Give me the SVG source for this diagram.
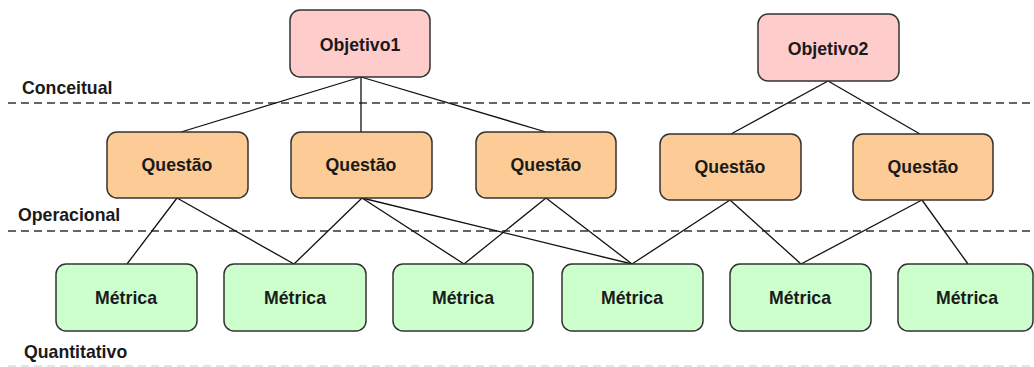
<svg xmlns="http://www.w3.org/2000/svg" width="1034" height="367" viewBox="0 0 1034 367">
<style>
.box{stroke:#333;stroke-width:1.5}
.obj{fill:#FFCCCC}
.q{fill:#FDCB95}
.m{fill:#CCFFCC}
.t{font-family:"Liberation Sans",Arial,sans-serif;font-weight:bold;font-size:17.7px;fill:#1a1a1a;text-anchor:middle}
.lbl{font-family:"Liberation Sans",Arial,sans-serif;font-weight:bold;font-size:17.7px;fill:#1a1a1a}
.dash{stroke:#333;stroke-width:1.5;stroke-dasharray:8 5;fill:none}
.dashl{stroke:#ddd;stroke-width:1.5;stroke-dasharray:8 5;fill:none}
.c line{stroke:#111;stroke-width:1.3}
</style>
<rect width="1034" height="367" fill="#fff"/>
<g id="layers">
<text class="lbl" x="22" y="94">Conceitual</text>
<line class="dash" x1="8" y1="103" x2="1034" y2="103"/>
<text class="lbl" x="18" y="221">Operacional</text>
<line class="dash" x1="8" y1="231" x2="1034" y2="231"/>
<text class="lbl" x="24" y="358">Quantitativo</text>
<line class="dashl" x1="8" y1="366" x2="1034" y2="366"/>
</g>
<g id="connectors" class="c">
<line x1="361" y1="77" x2="181" y2="132"/>
<line x1="361" y1="77" x2="361" y2="132"/>
<line x1="361" y1="77" x2="546" y2="132"/>
<line x1="828" y1="81" x2="731" y2="134"/>
<line x1="828" y1="81" x2="920" y2="134"/>
<line x1="177" y1="198" x2="127" y2="264"/>
<line x1="177" y1="198" x2="294" y2="264"/>
<line x1="362" y1="198" x2="294" y2="264"/>
<line x1="362" y1="198" x2="464" y2="264"/>
<line x1="362" y1="198" x2="632" y2="264"/>
<line x1="546" y1="198" x2="464" y2="264"/>
<line x1="546" y1="198" x2="632" y2="264"/>
<line x1="730" y1="200" x2="632" y2="264"/>
<line x1="730" y1="200" x2="801" y2="264"/>
<line x1="922" y1="200" x2="801" y2="264"/>
<line x1="922" y1="200" x2="968" y2="264"/>
</g>
<g id="objetivo1"><rect class="box obj" x="290" y="10" width="140" height="67" rx="10"/><text class="t" x="360" y="51">Objetivo1</text></g>
<g id="objetivo2"><rect class="box obj" x="758" y="14" width="141" height="67" rx="10"/><text class="t" x="828" y="55">Objetivo2</text></g>
<g id="questao1"><rect class="box q" x="107" y="132" width="141" height="66" rx="10"/><text class="t" x="177" y="171">Questão</text></g>
<g id="questao2"><rect class="box q" x="291" y="132" width="141" height="66" rx="10"/><text class="t" x="361" y="171">Questão</text></g>
<g id="questao3"><rect class="box q" x="476" y="132" width="140" height="66" rx="10"/><text class="t" x="546" y="171">Questão</text></g>
<g id="questao4"><rect class="box q" x="660" y="134" width="141" height="66" rx="10"/><text class="t" x="730" y="173">Questão</text></g>
<g id="questao5"><rect class="box q" x="853" y="134" width="140" height="66" rx="10"/><text class="t" x="923" y="173">Questão</text></g>
<g id="metrica1"><rect class="box m" x="56" y="264" width="141" height="67" rx="10"/><text class="t" x="126" y="304">Métrica</text></g>
<g id="metrica2"><rect class="box m" x="224" y="264" width="142" height="67" rx="10"/><text class="t" x="295" y="304">Métrica</text></g>
<g id="metrica3"><rect class="box m" x="393" y="264" width="140" height="67" rx="10"/><text class="t" x="463" y="304">Métrica</text></g>
<g id="metrica4"><rect class="box m" x="562" y="264" width="141" height="67" rx="10"/><text class="t" x="632" y="304">Métrica</text></g>
<g id="metrica5"><rect class="box m" x="730" y="264" width="141" height="67" rx="10"/><text class="t" x="800" y="304">Métrica</text></g>
<g id="metrica6"><rect class="box m" x="898" y="264" width="135" height="67" rx="10"/><text class="t" x="967" y="304">Métrica</text></g>
</svg>
